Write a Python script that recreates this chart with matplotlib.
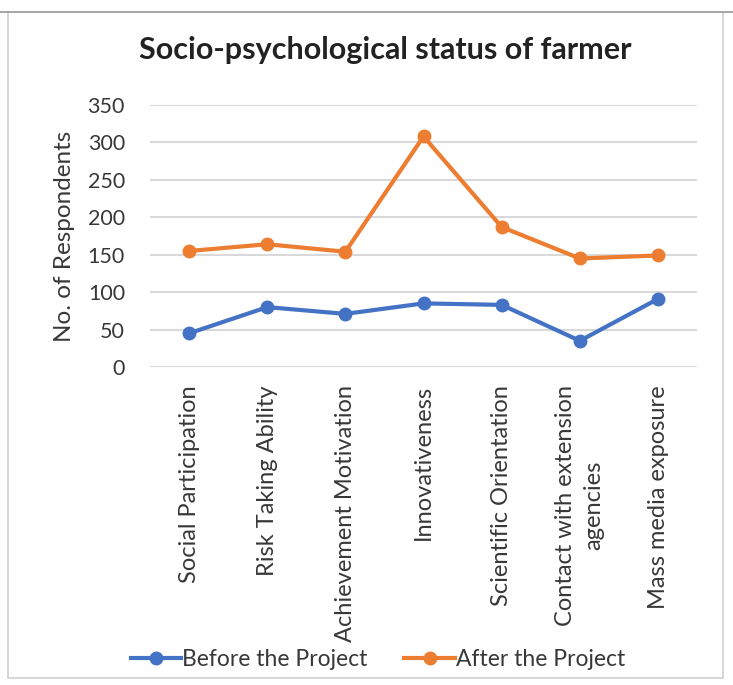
import matplotlib.pyplot as plt
from matplotlib.patches import Rectangle

categories = [
    "Social Participation",
    "Risk Taking Ability",
    "Achievement Motivation",
    "Innovativeness",
    "Scientific Orientation",
    "Contact with extension\nagencies",
    "Mass media exposure",
]
before = [45, 80, 71, 85, 83, 35, 91]
after = [155, 164, 154, 308, 187, 145, 149]

plt.rcParams['font.family'] = ['Lato', 'DejaVu Sans']
text_col = '#383838'

fig = plt.figure(figsize=(7.33, 6.85), dpi=100)
ax = fig.add_axes([0.2046, 0.4642, 0.7464, 0.3825])

# chart frame
fig.patches.append(Rectangle((8 / 733, 7 / 685), 715 / 733, 666 / 685,
                             transform=fig.transFigure, fill=False,
                             edgecolor='#d0d0d0', linewidth=1.2))
fig.patches.append(Rectangle((0, 1 - 13 / 685), 1, 2 / 685,
                             transform=fig.transFigure, color='#a8a8a8', linewidth=0))

x = range(len(categories))
ax.plot(x, before, color='#4472C4', linewidth=3, marker='o', markersize=9,
        label='Before the Project', zorder=3)
ax.plot(x, after, color='#ED7D31', linewidth=3, marker='o', markersize=9,
        label='After the Project', zorder=3)

ax.set_xlim(-0.5, len(categories) - 0.5)
ax.set_ylim(0, 350)
ax.set_yticks(range(0, 351, 50))
ax.grid(axis='y', color='#d9d9d9', linewidth=1.5)
ax.set_axisbelow(True)
for s in ax.spines.values():
    s.set_visible(False)
ax.tick_params(length=0, colors=text_col)
ax.tick_params(axis='y', labelsize=15.5, pad=18)

ax.set_xticks(list(x))
ax.set_xticklabels(categories, rotation=90, va='top', ha='center',
                   multialignment='center', fontsize=17, linespacing=1.45)
ax.tick_params(axis='x', pad=13)

ax.set_ylabel('No. of Respondents', fontsize=17.5, color=text_col, va='center')
ax.yaxis.set_label_coords(-0.156, 0.5)
fig.text(385 / 733, 1 - 50 / 685, 'Socio-psychological status of farmer',
         ha='center', va='center', fontsize=22, fontweight='bold', color='#222222')

fig.legend(loc='center', bbox_to_anchor=(378 / 733, 1 - 660 / 685), ncol=2,
           frameon=False, fontsize=16.5, handlelength=2.2, handletextpad=0.05,
           columnspacing=1.6, labelcolor=text_col)

fig.savefig('out.png', dpi=100)
